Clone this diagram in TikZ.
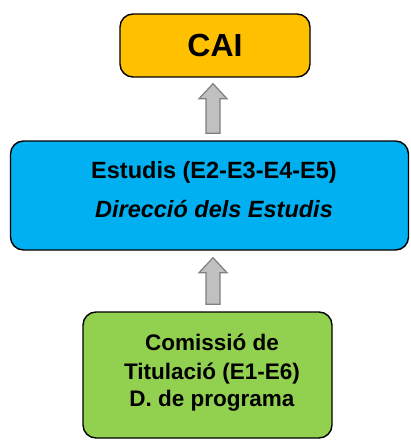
\documentclass[tikz,border=0pt]{standalone}
\usepackage{fontspec}
\setmainfont{Liberation Sans}
\usetikzlibrary{calc}
\definecolor{caiorange}{HTML}{FFC000}
\definecolor{estblue}{HTML}{00B0F0}
\definecolor{comgreen}{HTML}{92D050}
\definecolor{arrfill}{HTML}{C0C0C0}
\definecolor{arrdraw}{HTML}{7F7F7F}
\tikzset{
  box/.style={draw=black, line width=1.4pt, rounded corners=13pt, inner sep=0pt},
  txt/.style={anchor=base, inner sep=0pt, font=\bfseries\fontsize{22.5}{25}\selectfont},
  esttxt/.style={anchor=base, inner sep=0pt, font=\bfseries\fontsize{23.5}{25}\selectfont},
  upar/.style={fill=arrfill, draw=arrdraw, line width=1.2pt, line join=miter}
}
\newcommand{\uparrowshape}[2]{% #1 tip coordinate, #2 bottom coordinate
  \path[upar] ($(#1)+(0,0)$) -- ($(#1)+(14,15)$) -- ($(#1)+(7,15)$)
    -- ($(#2)+(7,0)$) -- ($(#2)+(-7,0)$) -- ($(#1)+(-7,15)$)
    -- ($(#1)+(-14,15)$) -- cycle;}
\begin{document}
\begin{tikzpicture}[x=1pt,y=-1pt]
\useasboundingbox (0,0) rectangle (410,441);
% boxes
\node[box, fill=caiorange, minimum width=190pt, minimum height=63pt,
      font=\bfseries\fontsize{32}{36}\selectfont] (cai) at (215,45.5) {CAI};
\node[box, fill=estblue, minimum width=398pt, minimum height=109pt] (estudis) at (209.5,195.5) {};
\node[box, fill=comgreen, minimum width=249pt, minimum height=126pt] (comissio) at (207.5,375) {};
% texts
\node[esttxt] (est1) at (214,178) {Estudis (E2-E3-E4-E5)};
\node[esttxt, font=\bfseries\itshape\fontsize{23.5}{25}\selectfont] (est2) at (214,217) {Direcció dels Estudis};
\node[txt] (com1) at (212,350.7) {Comissió de};
\node[txt] (com2) at (212,379.3) {Titulació (E1-E6)};
\node[txt] (com3) at (212,406) {D. de programa};
% arrows
\coordinate (a1tip) at ($(cai.south)+(-2,6)$);
\coordinate (a1bot) at ($(estudis.north)+(3.5,-7)$);
\uparrowshape{a1tip}{a1bot}
\coordinate (a2tip) at ($(estudis.south)+(3.5,7)$);
\coordinate (a2bot) at ($(comissio.north)+(5.5,-7)$);
\uparrowshape{a2tip}{a2bot}
\end{tikzpicture}
\end{document}
